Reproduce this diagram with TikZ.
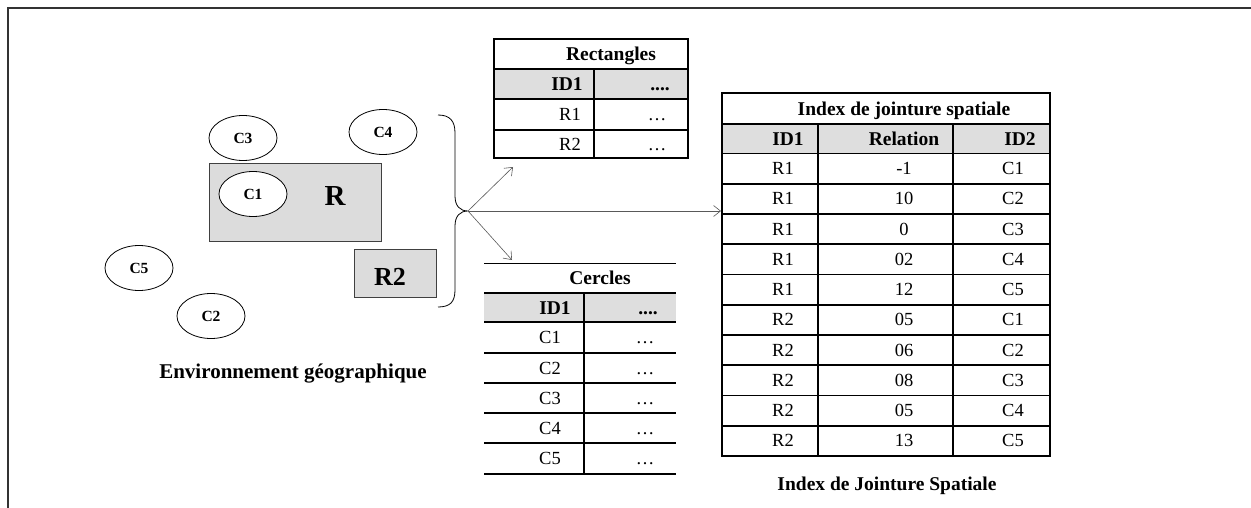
\documentclass[tikz,border=0pt]{standalone}
\usepackage{fontspec}
\setmainfont{Liberation Serif}
\usetikzlibrary{shapes.geometric,arrows.meta}
\definecolor{hdrgray}{HTML}{DEDEDE}
\definecolor{rectgray}{HTML}{DCDCDC}
\begin{document}
\begin{tikzpicture}[x=1pt,y=-1pt,
  tbl/.style={line width=1.6pt, draw=black},
  td/.style={anchor=base, inner sep=0pt, font=\fontsize{18.5}{21}\selectfont},
  th/.style={anchor=base, inner sep=0pt, font=\fontsize{19.5}{22}\selectfont\bfseries},
  circ/.style={ellipse, draw, line width=0.8pt, fill=white, minimum width=68pt, minimum height=45pt, inner sep=0pt, font=\fontsize{15.5}{18}\selectfont\bfseries},
  geobox/.style={draw=black!75, fill=rectgray, line width=0.9pt, inner sep=0pt},
  conn/.style={draw=black!65, line width=0.6pt, -{Straight Barb[length=7pt,width=11pt]}},
  bracestyle/.style={draw=black, line width=0.8pt}
]
\useasboundingbox (0,0) rectangle (1251,508);
% outer frame
\draw[line width=1.5pt, draw=black!80] (8,508) -- (8,8) -- (1251,8);

% geographic environment
\node[circ] (c3) at (243,138) {C3};
\node[circ] (c4) at (383,132) {C4};
\node[geobox, minimum width=172pt, minimum height=78pt] (rbox) at (295,202) {};
\node[circ] (c1) at (253,194) {C1};
\node[anchor=base, inner sep=0pt, font=\fontsize{29}{32}\selectfont\bfseries] (rlab) at (335,205) {R};
\node[geobox, minimum width=82pt, minimum height=48pt] (r2box) at (395,273) {};
\node[anchor=base, inner sep=0pt, font=\fontsize{26}{30}\selectfont\bfseries] (r2lab) at (390,285) {R2};
\node[circ] (c5) at (139,268) {C5};
\node[circ] (c2) at (211,316) {C2};
\node[anchor=base, inner sep=0pt, font=\fontsize{21}{24}\selectfont\bfseries] (envlab) at (293,378) {Environnement géographique};

% brace
\coordinate (tip) at (468,211);
\draw[bracestyle] (438,115) .. controls (450,115) and (455,121) .. (455,133)
  -- (455,196) .. controls (455,206) and (460,211) .. (tip)
  .. controls (460,211) and (455,216) .. (455,226)
  -- (455,290) .. controls (455,302) and (450,307) .. (438,307);

% Rectangles table
\fill[hdrgray] (494,69) rectangle (688,99);
\draw[tbl] (494,39) rectangle (688,158);
\draw[tbl] (494,69) -- (688,69) (494,99) -- (688,99) (494,130) -- (688,130);
\draw[tbl] (594,69) -- (594,158);
\node[th] (rt) at (611,60.4) {Rectangles};
\node[th] (rh1) at (567,90.4) {ID1};
\node[th] (rh2) at (660,90.4) {....};
\node[td] (rr1) at (570,120.6) {R1};
\node[td] (rr1b) at (657,120.6) {…};
\node[td] (rr2) at (570,150.1) {R2};
\node[td] (rr2b) at (657,150.1) {…};
\coordinate (rtgt) at (513,167);

% Cercles table
\fill[hdrgray] (484,293) rectangle (676,322);
\foreach \yy in {263.5,293,322,353,383,413,443,474}
  \draw[tbl] (484,\yy) -- (676,\yy);
\draw[tbl] (584,293) -- (584,474);
\node[th] (ct) at (600,284.6) {Cercles};
\node[th] (ch1) at (555,314) {ID1};
\node[th] (ch2) at (648,314) {....};
\foreach \lab/\yc [count=\i] in {C1/337.5,C2/368,C3/398,C4/428,C5/458.5} {
  \node[td] (cr\i) at (550,\yc+6.1) {\lab};
  \node[td] (crb\i) at (645,\yc+6.1) {…};
}
\coordinate (ctgt) at (512,260);

% Index table
\fill[hdrgray] (722,124) rectangle (1050,153.5);
\draw[tbl] (722,93) rectangle (1050,456);
\foreach \yy in {124,153.5,183.75,214,244.25,274.5,304.75,335,365.25,395.5,425.75}
  \draw[tbl] (722,\yy) -- (1050,\yy);
\draw[tbl] (818,124) -- (818,456);
\draw[tbl] (953,124) -- (953,456);
\node[th] (it) at (904,115.5) {Index de jointure spatiale};
\node[th] (ih1) at (788,145.4) {ID1};
\node[th] (ih2) at (904,145.4) {Relation};
\node[th] (ih3) at (1020,145.4) {ID2};
\foreach \a/\b/\c [count=\i] in {R1/-1/C1,R1/10/C2,R1/0/C3,R1/02/C4,R1/12/C5,R2/05/C1,R2/06/C2,R2/08/C3,R2/05/C4,R2/13/C5} {
  \pgfmathsetmacro\yy{153.5+30.25*(\i-0.5)+6.1}
  \node[td] (ia\i) at (783,\yy) {\a};
  \node[td] (ib\i) at (904,\yy) {\b};
  \node[td] (ic\i) at (1013,\yy) {\c};
}
\coordinate (itgt) at (721,211);
\node[th] (icap) at (887,490) {Index de Jointure Spatiale};

% connectors
\draw[conn] (tip) -- (rtgt);
\draw[conn] (tip) -- (ctgt);
\draw[conn] (tip) -- (itgt);
\end{tikzpicture}
\end{document}
